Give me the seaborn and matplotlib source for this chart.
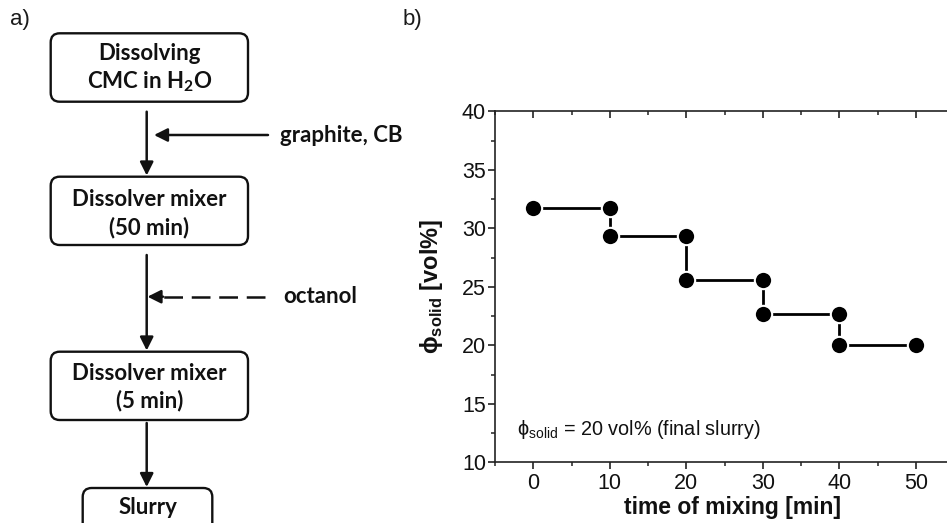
import matplotlib
matplotlib.use("Agg")
import matplotlib.pyplot as plt
from matplotlib.patches import FancyBboxPatch
from matplotlib.ticker import MultipleLocator
import seaborn as sns
import pandas as pd

# ---- data (step chart, panel b) ----
time_min = [0, 10, 10, 20, 20, 30, 30, 40, 40, 50]
phi_solid = [31.7, 31.7, 29.3, 29.3, 25.6, 25.6, 22.7, 22.7, 20.0, 20.0]
x_ticks = [0, 10, 20, 30, 40, 50]
y_ticks = [10, 15, 20, 25, 30, 35, 40]

# ---- flowchart text (panel a) ----
box_texts = [["Dissolving", "CMC in H$_\\mathregular{2}$O"],
             ["Dissolver mixer", "(50 min)"],
             ["Dissolver mixer", "(5 min)"],
             ["Slurry"]]
side_texts = ["graphite, CB", "octanol"]

sns.set_theme(style="ticks")
plt.rcParams["font.family"] = ["Liberation Sans", "DejaVu Sans"]

W, H = 947, 523
fig = plt.figure(figsize=(W / 100, H / 100), dpi=100)

# ---------- flowchart overlay (pixel coordinates) ----------
ax0 = fig.add_axes([0, 0, 1, 1])
ax0.set_xlim(0, W)
ax0.set_ylim(H, 0)
ax0.axis("off")

flow_font = dict(family=["Lato", "DejaVu Sans"], weight="bold", size=16, color="#111111")
boxes = [(50.7, 33.3, 248, 101.7), (50.7, 176.7, 248, 245),
         (50.7, 351.7, 248, 420), (82.7, 488, 212.3, 540)]
line_y = [[53, 82], [200, 228], [374, 401], [508]]
for (x0, y0, x1, y1), lines, ys in zip(boxes, box_texts, line_y):
    p = FancyBboxPatch((x0, y0), x1 - x0, y1 - y0,
                       boxstyle="round,pad=0,rounding_size=9",
                       fc="white", ec="#111111", lw=1.7, clip_on=False)
    ax0.add_patch(p)
    cx = (x0 + x1) / 2
    for t, yy in zip(lines, ys):
        ax0.text(cx, yy, t, ha="center", va="center", **flow_font)

arrow_kw = dict(arrowstyle="-|>", lw=1.8, color="#111111",
                mutation_scale=20, shrinkA=0, shrinkB=0)
cx_arrow = 146.7
for ys, ye in [(111.7, 175.5), (255, 350.5), (423, 487)]:
    ax0.annotate("", xy=(cx_arrow, ye), xytext=(cx_arrow, ys), arrowprops=arrow_kw)

# graphite arrow
ax0.annotate("", xy=(154, 135), xytext=(268, 135), arrowprops=arrow_kw)
ax0.text(280, 135, side_texts[0], ha="left", va="center", **flow_font)
# octanol dashed arrow
ax0.plot([265, 162], [296.7, 296.7], color="#111111", lw=1.8,
         linestyle=(0, (7.5, 3.5)))
ax0.annotate("", xy=(147.5, 296.7), xytext=(163, 296.7), arrowprops=arrow_kw)
ax0.text(283, 296.7, side_texts[1], ha="left", va="center", **flow_font)

# panel labels
ax0.text(10, 20, "a)", ha="left", va="center", fontsize=16, color="#1a1a1a")
ax0.text(403, 20, "b)", ha="left", va="center", fontsize=16, color="#1a1a1a")

# ---------- step chart ----------
px_per_unit_x = 7.65
xmin, xmax = -5, 57
left = 495 / W
bottom = 1 - 462.3 / H
top = 1 - 111.3 / H
width = (xmax - xmin) * px_per_unit_x / W
ax = fig.add_axes([left, bottom, width, top - bottom])

df = pd.DataFrame({"time": time_min, "phi": phi_solid})
sns.lineplot(data=df, x="time", y="phi", sort=False, estimator=None, ax=ax,
             color="black", lw=2.0, marker="o", markersize=12.5,
             markerfacecolor="black", markeredgecolor="white", markeredgewidth=1.5)

ax.set_xlim(xmin, xmax)
ax.set_ylim(10, 40)
ax.set_xticks(x_ticks)
ax.set_yticks(y_ticks)
ax.xaxis.set_minor_locator(MultipleLocator(5))
ax.yaxis.set_minor_locator(MultipleLocator(2.5))
for s in ax.spines.values():
    s.set_visible(True)
    s.set_linewidth(1.2)
    s.set_color("#222222")

ax.tick_params(axis="both", which="major", direction="out", length=5, width=1.2,
               labelsize=15.5, colors="#222222", labelcolor="#111111")
ax.tick_params(axis="both", which="minor", direction="out", length=2.8, width=1.1,
               colors="#222222")
ax.tick_params(axis="x", which="both", top=True, labeltop=False, pad=2.5)
ax.tick_params(axis="y", which="both", right=True, pad=1.5)

# top / right mirrored ticks pointing inward
for t in ax.xaxis.get_major_ticks() + ax.xaxis.get_minor_ticks():
    t.tick2line.set_marker(3)
for t in ax.yaxis.get_major_ticks() + ax.yaxis.get_minor_ticks():
    t.tick2line.set_marker(0)

ax.set_xlabel("time of mixing [min]", fontsize=16.5, fontweight="bold", labelpad=1.5,
              color="#111111")
ax.set_ylabel("ϕ$_\\mathregular{solid}$ [vol%]", fontsize=17, fontweight="bold",
              labelpad=12, color="#111111")

ax.text(-2.1, 12.3, "ϕ$_\\mathregular{solid}$ = 20 vol% (final slurry)",
        fontsize=14.3, ha="left", va="baseline", color="#111111")

fig.savefig("out.png", dpi=100)
